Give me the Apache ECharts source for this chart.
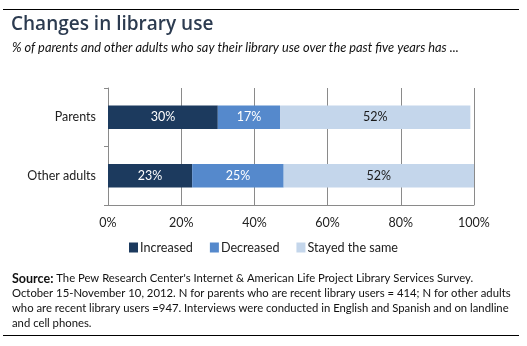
<!DOCTYPE html>
<html><head><meta charset="utf-8">
<script src="https://cdn.jsdelivr.net/npm/echarts@6/dist/echarts.min.js"></script>
<style>html,body{margin:0;padding:0;background:#fff}#c{width:527px;height:346px}</style>
</head><body><div id="c"></div>
<script>
var categories = ['Parents', 'Other adults'];
var seriesNames = ['Increased', 'Decreased', 'Stayed the same'];
var increased = [30, 23];
var decreased = [17, 25];
var stayedSame = [52, 52];
var xTicks = [0, 20, 40, 60, 80, 100];

var FONT = 'Lato';
var colors = ['#1c3a5e', '#5589cc', '#c4d6eb'];
var labelColors = ['#ffffff', '#ffffff', '#1a1a1a'];
var values = [increased, decreased, stayedSame];

var chart = echarts.init(document.getElementById('c'), null, {renderer: 'canvas'});
var series = seriesNames.map(function (n, i) {
  return {
    name: n, type: 'bar', stack: 'all', data: values[i],
    barCategoryGap: '60%',
    itemStyle: {color: colors[i]},
    label: {show: true, position: 'inside', formatter: '{c}%', color: labelColors[i],
      fontFamily: FONT, fontSize: 12.5}
  };
});
chart.setOption({
  animation: false,
  textStyle: {fontFamily: FONT},
  grid: {left: 108, right: 53, top: 88, bottom: 141, containLabel: false},
  xAxis: {
    type: 'value', min: xTicks[0], max: xTicks[xTicks.length - 1], interval: 20,
    axisLine: {show: true, lineStyle: {color: '#8a8a8a'}},
    axisTick: {show: false},
    splitLine: {show: true, lineStyle: {color: '#8a8a8a', width: 1}},
    axisLabel: {formatter: '{value}%', color: '#222', fontSize: 12.5, fontFamily: FONT, margin: 11}
  },
  yAxis: {
    type: 'category', data: categories, inverse: true,
    axisLine: {show: true, lineStyle: {color: '#8a8a8a'}},
    axisTick: {show: true, length: 4, lineStyle: {color: '#8a8a8a'}},
    axisLabel: {color: '#222', fontSize: 12.5, fontFamily: FONT, margin: 12}
  },
  legend: {
    data: seriesNames, bottom: 87, left: 'center', itemWidth: 9, itemHeight: 10, itemGap: 17,
    icon: 'rect',
    textStyle: {fontSize: 12.6, color: '#222', fontFamily: FONT, padding: [0, 0, 0, -3]}
  },
  series: series,
  graphic: [
    {type: 'line', shape: {x1: 3, y1: 9.5, x2: 519, y2: 9.5}, style: {stroke: '#000', lineWidth: 1}},
    {type: 'line', shape: {x1: 3, y1: 335.5, x2: 519, y2: 335.5}, style: {stroke: '#000', lineWidth: 1}},
    {type: 'text', left: 11, top: 15, style: {text: 'Changes in library use', fill: '#2c3b50',
      font: '600 19px "Open Sans"'}},
    {type: 'text', left: 12, top: 41, style: {text: '% of parents and other adults who say their library use over the past five years has ...',
      fill: '#111', font: 'italic 12.8px ' + FONT}},
    {type: 'text', left: 12, top: 272, style: {
      text: '{b|Source:} The Pew Research Center\'s Internet & American Life Project Library Services Survey.',
      rich: {b: {fontWeight: 'bold', fontSize: 12.5, fontFamily: FONT, fill: '#111'}},
      fill: '#111', font: '11.3px ' + FONT}},
    {type: 'text', left: 12, top: 288, style: {text: 'October 15-November 10, 2012. N for parents who are recent library users = 414; N for other adults',
      fill: '#111', font: '11.3px ' + FONT}},
    {type: 'text', left: 12, top: 303, style: {text: 'who are recent library users =947. Interviews were conducted in English and Spanish and on landline',
      fill: '#111', font: '11.3px ' + FONT}},
    {type: 'text', left: 12, top: 318, style: {text: 'and cell phones.',
      fill: '#111', font: '11.3px ' + FONT}}
  ]
});
</script></body></html>
